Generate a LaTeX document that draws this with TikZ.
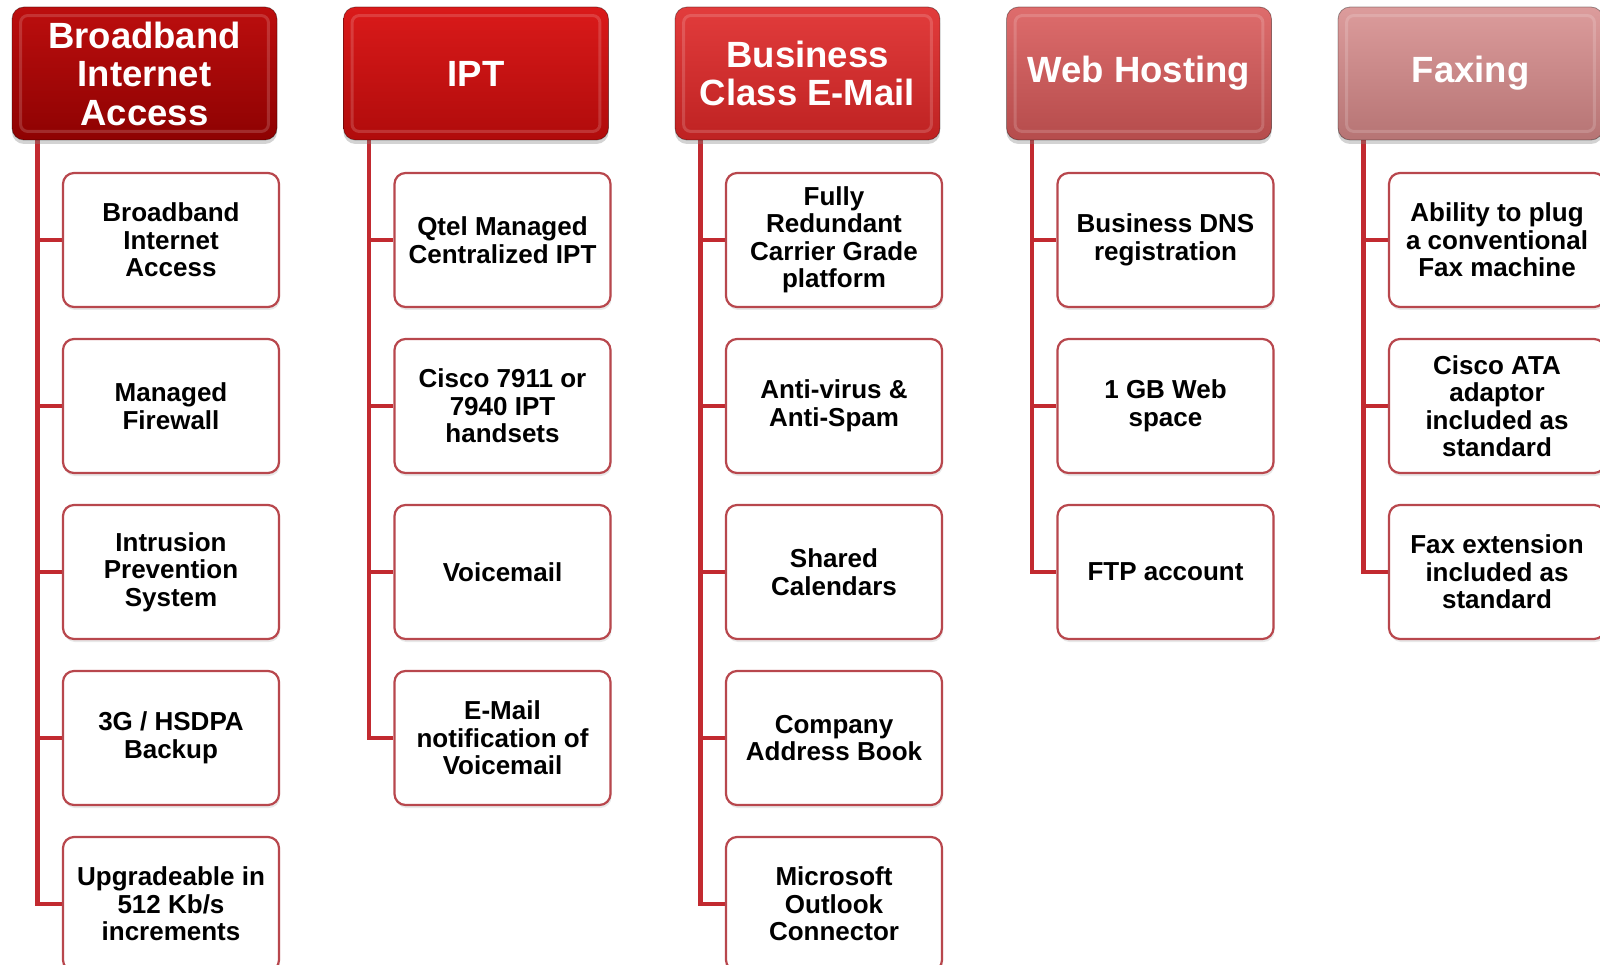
\documentclass[tikz,border=0pt]{standalone}
\usepackage{fontspec}
\setmainfont{Liberation Sans}
\usetikzlibrary{shadows,backgrounds}

\definecolor{hdrAtop}{HTML}{BC0E0E}
\definecolor{hdrAbot}{HTML}{8E0202}
\definecolor{hdrBtop}{HTML}{DA1A1A}
\definecolor{hdrBbot}{HTML}{B00B0B}
\definecolor{hdrCtop}{HTML}{E23C3C}
\definecolor{hdrCbot}{HTML}{BE2222}
\definecolor{hdrDtop}{HTML}{DE6C6C}
\definecolor{hdrDbot}{HTML}{B54C4C}
\definecolor{hdrEtop}{HTML}{DC9C9C}
\definecolor{hdrEbot}{HTML}{B67474}
\definecolor{itemborder}{HTML}{B8474D}
\definecolor{linkred}{HTML}{C22A30}

\tikzset{
  hdr/.style={rounded corners=12pt, minimum width=265pt, minimum height=133pt,
    inner sep=0pt, text=white, align=center,
    font=\bfseries\fontsize{36.5}{38.5}\selectfont,
    draw=black, draw opacity=0.35, line width=0.8pt,
    drop shadow={opacity=0.35, shadow xshift=0pt, shadow yshift=-4pt}},
  gloss/.style={draw=white, draw opacity=0.16, line width=3pt, rounded corners=7pt},
  itm/.style={rounded corners=11pt, minimum width=216pt, minimum height=134pt,
    inner sep=0pt, fill=white, draw=itemborder, line width=2.2pt, align=center,
    font=\bfseries\fontsize{26}{27.5}\selectfont,
    drop shadow={opacity=0.18, shadow xshift=1pt, shadow yshift=-3pt}},
  link/.style={draw=linkred, line width=4.5pt}
}

\begin{document}
\begin{tikzpicture}[x=1pt, y=-1pt]
\useasboundingbox (0,0) rectangle (1600,965);
\clip (0,0) rectangle (1600,965);

% column headers
\node[hdr, top color=hdrAtop, bottom color=hdrAbot] (h1) at (144.5,73.5) {Broadband\\Internet\\Access};
\node[hdr, top color=hdrBtop, bottom color=hdrBbot] (h2) at (476,73.5) {IPT};
\node[hdr, top color=hdrCtop, bottom color=hdrCbot] (h3) at (807.5,73.5) {Business\\Class E-Mail};
\node[hdr, top color=hdrDtop, bottom color=hdrDbot] (h4) at (1139,73.5) {Web Hosting};
\node[hdr, top color=hdrEtop, bottom color=hdrEbot] (h5) at (1470.5,73.5) {Faxing};

% inner bevel highlight of the headers
\foreach \h in {h1,h2,h3,h4,h5}
  \draw[gloss] ([shift={(9pt,-9pt)}]\h.north west) rectangle ([shift={(-9pt,9pt)}]\h.south east);

% Broadband Internet Access
\node[itm] (c11) at (171,240) {Broadband\\Internet\\Access};
\node[itm] (c12) at (171,406) {Managed\\Firewall};
\node[itm] (c13) at (171,572) {Intrusion\\Prevention\\System};
\node[itm] (c14) at (171,738) {3G / HSDPA\\Backup};
\node[itm] (c15) at (171,904) {Upgradeable in\\512 Kb/s\\increments};

% IPT
\node[itm] (c21) at (502.5,240) {Qtel Managed\\Centralized IPT};
\node[itm] (c22) at (502.5,406) {Cisco 7911 or\\7940 IPT\\handsets};
\node[itm] (c23) at (502.5,572) {Voicemail};
\node[itm] (c24) at (502.5,738) {E-Mail\\notification of\\Voicemail};

% Business Class E-Mail
\node[itm] (c31) at (834,240) {Fully\\Redundant\\Carrier Grade\\platform};
\node[itm] (c32) at (834,406) {Anti-virus \&\\Anti-Spam};
\node[itm] (c33) at (834,572) {Shared\\Calendars};
\node[itm] (c34) at (834,738) {Company\\Address Book};
\node[itm] (c35) at (834,904) {Microsoft\\Outlook\\Connector};

% Web Hosting
\node[itm] (c41) at (1165.5,240) {Business DNS\\registration};
\node[itm] (c42) at (1165.5,406) {1 GB Web\\space};
\node[itm] (c43) at (1165.5,572) {FTP account};

% Faxing
\node[itm] (c51) at (1497,240) {Ability to plug\\a conventional\\Fax machine};
\node[itm] (c52) at (1497,406) {Cisco ATA\\adaptor\\included as\\standard};
\node[itm] (c53) at (1497,572) {Fax extension\\included as\\standard};

% connectors from each header down to its items
\begin{scope}[on background layer]
  \foreach \c in {c11,c12,c13,c14,c15}
    \draw[link] ([xshift=26pt]h1.south west) |- (\c.west);
  \foreach \c in {c21,c22,c23,c24}
    \draw[link] ([xshift=26pt]h2.south west) |- (\c.west);
  \foreach \c in {c31,c32,c33,c34,c35}
    \draw[link] ([xshift=26pt]h3.south west) |- (\c.west);
  \foreach \c in {c41,c42,c43}
    \draw[link] ([xshift=26pt]h4.south west) |- (\c.west);
  \foreach \c in {c51,c52,c53}
    \draw[link] ([xshift=26pt]h5.south west) |- (\c.west);
\end{scope}
\end{tikzpicture}
\end{document}
